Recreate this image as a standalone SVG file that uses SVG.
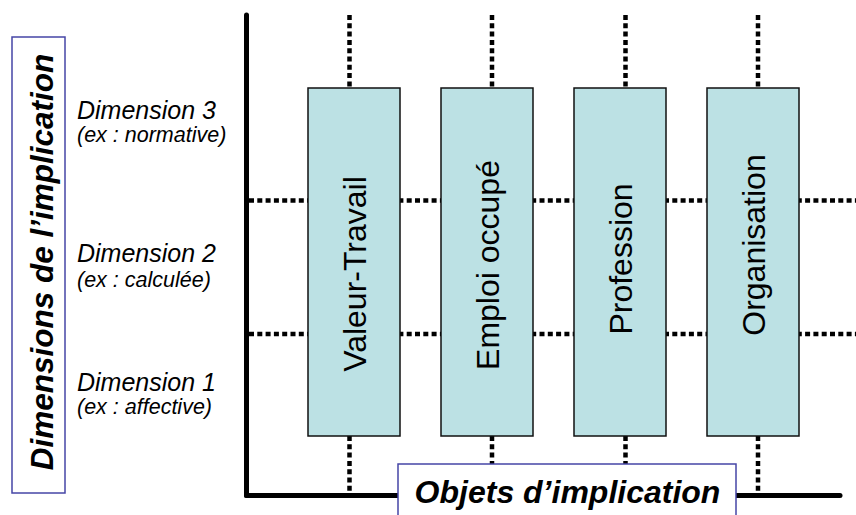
<svg xmlns="http://www.w3.org/2000/svg" width="856" height="515" viewBox="0 0 856 515">
<style>
.axis{stroke:#000;stroke-width:5;stroke-linecap:round;fill:none}
.dot{stroke:#000;stroke-width:4.5;stroke-dasharray:5 3.3;fill:none}
.obj{fill:#BCE1E4;stroke:#111;stroke-width:1.5}
.objt{font-family:"Liberation Sans",Arial,sans-serif;font-size:32px;fill:#000;text-anchor:middle}
.lab{fill:#fff;stroke:#4646A6;stroke-width:1.5}
.title{font-family:"Liberation Sans",Arial,sans-serif;font-size:31.5px;font-weight:bold;font-style:italic;fill:#000;text-anchor:middle}
.dim{font-family:"Liberation Sans",Arial,sans-serif;font-style:italic;fill:#000}
.d1{font-size:25px}
.d2{font-size:21.5px}
</style>
<rect width="856" height="515" fill="#fff"/>
<g id="connectors">
  <line class="dot" x1="249" y1="200.5" x2="856" y2="200.5"/>
  <line class="dot" x1="249" y1="334" x2="856" y2="334"/>
  <line class="dot" x1="349.5" y1="15" x2="349.5" y2="88"/>
  <line class="dot" x1="492" y1="15" x2="492" y2="88"/>
  <line class="dot" x1="625.5" y1="15" x2="625.5" y2="88"/>
  <line class="dot" x1="758" y1="15" x2="758" y2="88"/>
  <line class="dot" x1="349.5" y1="436" x2="349.5" y2="494"/>
  <line class="dot" x1="492" y1="436" x2="492" y2="494"/>
  <line class="dot" x1="625.5" y1="436" x2="625.5" y2="494"/>
  <line class="dot" x1="758" y1="436" x2="758" y2="494"/>
  <line class="axis" x1="246.5" y1="15" x2="246.5" y2="495.5"/>
  <line class="axis" x1="246.5" y1="495.5" x2="840" y2="495.5"/>
</g>
<g id="valeur-travail">
  <rect class="obj" x="308" y="88" width="92" height="348"/>
  <text class="objt" transform="translate(365.5 274) rotate(-90)">Valeur-Travail</text>
</g>
<g id="emploi-occupe">
  <rect class="obj" x="441" y="88" width="92" height="348"/>
  <text class="objt" transform="translate(499 265) rotate(-90)">Emploi occupé</text>
</g>
<g id="profession">
  <rect class="obj" x="574" y="88" width="92" height="348"/>
  <text class="objt" transform="translate(632 259) rotate(-90)">Profession</text>
</g>
<g id="organisation">
  <rect class="obj" x="707" y="88" width="92" height="348"/>
  <text class="objt" transform="translate(765 245) rotate(-90)">Organisation</text>
</g>
<g id="dimensions-label">
  <rect class="lab" x="12" y="37" width="53" height="456"/>
  <text class="title" transform="translate(52.5 262) rotate(-90)">Dimensions de l’implication</text>
</g>
<g id="objets-label">
  <rect class="lab" x="398" y="464" width="338" height="60"/>
  <text class="title" x="567.5" y="503" style="font-size:32px">Objets d’implication</text>
</g>
<g id="dimension-3">
  <text class="dim d1" x="77" y="119">Dimension 3</text>
  <text class="dim d2" x="77" y="142">(ex : normative)</text>
</g>
<g id="dimension-2">
  <text class="dim d1" x="77" y="262">Dimension 2</text>
  <text class="dim d2" x="77" y="287">(ex : calculée)</text>
</g>
<g id="dimension-1">
  <text class="dim d1" x="77" y="391">Dimension 1</text>
  <text class="dim d2" x="77" y="414">(ex : affective)</text>
</g>
</svg>
